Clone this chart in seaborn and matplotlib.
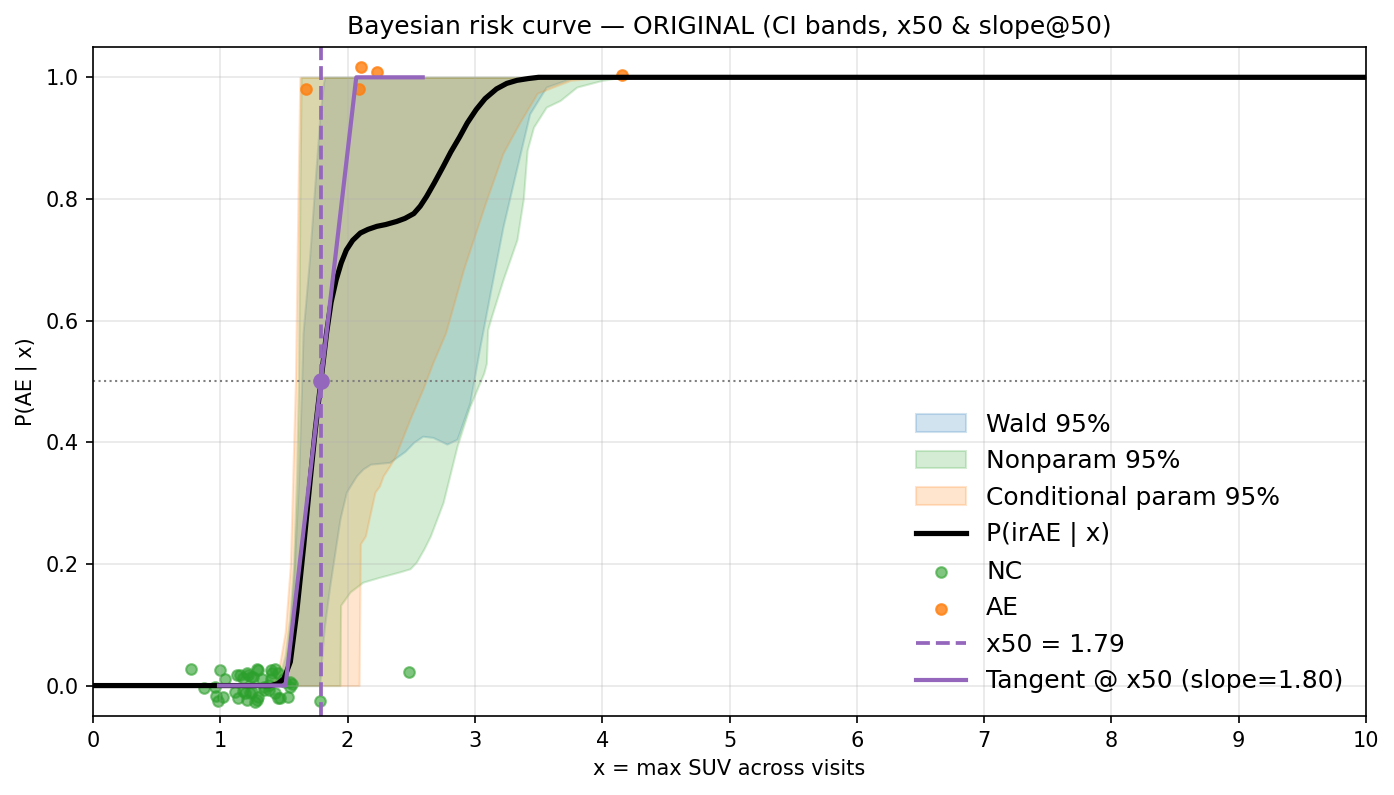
import numpy as np
import matplotlib
matplotlib.use("Agg")
import matplotlib.pyplot as plt
import seaborn as sns

# posterior mean risk curve P(irAE | x)
curve_x = [0.0, 1.40, 1.45, 1.50, 1.55, 1.60, 1.655, 1.707, 1.746, 1.79, 1.835, 1.87, 1.91,
           1.95, 1.99, 2.04, 2.10, 2.16, 2.23, 2.30, 2.385, 2.45, 2.52, 2.57, 2.62, 2.68,
           2.75, 2.81, 2.88, 2.94, 3.01, 3.08, 3.17, 3.25, 3.33, 3.42, 3.50, 3.70, 10.0]
curve_y = [0.0, 0.0, 0.003, 0.011, 0.039, 0.12, 0.23, 0.34, 0.42, 0.50, 0.58, 0.63, 0.667,
           0.695, 0.716, 0.732, 0.744, 0.750, 0.755, 0.758, 0.763, 0.768, 0.776, 0.788, 0.804, 0.826,
           0.853, 0.877, 0.902, 0.925, 0.947, 0.965, 0.981, 0.990, 0.995, 0.998, 1.0, 1.0, 1.0]

# Wald 95% band
wald_x = [0.0, 1.40, 1.45, 1.50, 1.537, 1.577, 1.615, 1.64, 1.65, 1.70, 1.745, 1.77, 1.78,
          1.81, 1.82, 1.86, 1.90, 1.94, 1.99, 2.07, 2.12, 2.18, 2.33, 2.45, 2.52, 2.59, 2.67,
          2.78, 2.86, 2.96, 3.04, 3.12, 3.22, 3.33, 3.43, 3.56, 3.75, 4.0, 10.0]
wald_lo = [0.0] * 13 + [0.08, 0.10, 0.164, 0.219, 0.274, 0.318, 0.345, 0.356, 0.364, 0.367,
                        0.385, 0.40, 0.41, 0.408, 0.397, 0.405, 0.465, 0.558, 0.646, 0.754,
                        0.852, 0.94, 0.984, 0.998, 1.0, 1.0]
wald_hi = [0.0, 0.0, 0.0, 0.023, 0.066, 0.175, 0.34, 0.503, 0.58, 0.70, 0.83, 0.90, 0.93,
           0.99, 1.0] + [1.0] * 24

# Nonparametric 95% band
np_x = [0.0, 1.40, 1.46, 1.51, 1.545, 1.576, 1.60, 1.615, 1.625, 1.635, 1.94, 1.945, 2.02,
        2.12, 2.25, 2.41, 2.49, 2.54, 2.60, 2.65, 2.75, 2.86, 2.96, 3.07, 3.09, 3.10, 3.12,
        3.22, 3.33, 3.38, 3.41, 3.46, 3.56, 3.67, 3.80, 4.0, 4.15, 10.0]
np_lo = [0.0] * 11 + [0.132, 0.154, 0.17, 0.178, 0.187, 0.192, 0.203, 0.225, 0.246, 0.301,
                      0.394, 0.459, 0.514, 0.53, 0.585, 0.60, 0.667, 0.733, 0.80, 0.88,
                      0.918, 0.951, 0.962, 0.984, 0.995, 1.0, 1.0]
np_hi = [0.0, 0.0, 0.01, 0.05, 0.11, 0.197, 0.35, 0.5, 0.8, 1.0] + [1.0] * 28

# Conditional parametric 95% band
cp_x = [0.0, 1.40, 1.46, 1.51, 1.55, 1.59, 1.61, 1.625, 2.09, 2.10, 2.14, 2.18, 2.215, 2.25,
        2.28, 2.33, 2.37, 2.49, 2.59, 2.67, 2.77, 2.91, 3.09, 3.22, 3.35, 3.49, 3.75, 4.0, 10.0]
cp_lo = [0.0] * 9 + [0.233, 0.246, 0.285, 0.318, 0.328, 0.345, 0.361, 0.375, 0.438, 0.487,
                     0.531, 0.58, 0.684, 0.798, 0.875, 0.925, 0.974, 0.995, 1.0, 1.0]
cp_hi = [0.0, 0.0, 0.028, 0.088, 0.197, 0.5, 0.8, 1.0] + [1.0] * 21

# observed patients (jittered around 0 / 1)
nc_x = [0.77, 0.875, 0.96, 0.97, 0.98, 1.00, 1.02, 1.04, 1.115, 1.13, 1.14, 1.155, 1.175,
        1.18, 1.195, 1.21, 1.21, 1.22, 1.235, 1.245, 1.25, 1.26, 1.27, 1.285, 1.29, 1.30,
        1.30, 1.325, 1.34, 1.34, 1.38, 1.38, 1.40, 1.41, 1.40, 1.43, 1.43, 1.455, 1.455,
        1.47, 1.49, 1.51, 1.535, 1.545, 1.55, 1.56, 1.78, 2.48]
nc_y = [0.028, -0.004, -0.002, -0.017, -0.026, 0.025, -0.019, 0.010, -0.010, 0.017, -0.021,
        0.017, -0.009, 0.013, -0.012, 0.020, -0.023, 0.018, -0.013, 0.014, -0.010, 0.014,
        -0.027, -0.024, 0.028, 0.026, -0.019, 0.011, -0.002, -0.008, -0.008, 0.001, 0.025,
        0.020, 0.011, 0.028, -0.013, 0.020, -0.021, -0.021, 0.011, 0.006, -0.019, -0.002,
        0.006, 0.003, -0.026, 0.023]
ae_x = [1.67, 2.09, 2.105, 2.23, 4.155]
ae_y = [0.98, 0.981, 1.017, 1.009, 1.003]

x50 = 1.79
slope50 = 1.80

fig, ax = plt.subplots(figsize=(1394 / 150, 795 / 150), dpi=150)
fig.subplots_adjust(left=0.0667, right=0.980, top=0.941, bottom=0.0994)

ax.axhline(0.5, color="gray", ls=":", lw=1)

ax.fill_between(wald_x, wald_lo, wald_hi, color="tab:blue", alpha=0.2, label="Wald 95%")
ax.fill_between(np_x, np_lo, np_hi, color="tab:green", alpha=0.2, label="Nonparam 95%")
ax.fill_between(cp_x, cp_lo, cp_hi, color="tab:orange", alpha=0.2, label="Conditional param 95%")

sns.lineplot(x=curve_x, y=curve_y, color="black", lw=2.5, label="P(irAE | x)", ax=ax)

sns.scatterplot(x=nc_x, y=nc_y, color="tab:green", s=26, alpha=0.6,
                edgecolor="tab:green", linewidth=1, label="NC", ax=ax)
sns.scatterplot(x=ae_x, y=ae_y, color="tab:orange", s=26, alpha=0.8,
                edgecolor="tab:orange", linewidth=1, label="AE", ax=ax)

ax.axvline(x50, color="tab:purple", ls="--", lw=1.8, label=f"x50 = {x50:.2f}")

tx = np.linspace(x50 - 0.8, x50 + 0.8, 400)
ty = np.clip(0.5 + slope50 * (tx - x50), 0, 1)
ax.plot(tx, ty, color="tab:purple", lw=2, label=f"Tangent @ x50 (slope={slope50:.2f})")
ax.plot([x50], [0.5], "o", color="tab:purple", ms=7)

ax.set_xlim(0, 10)
ax.set_ylim(-0.05, 1.05)
ax.set_xticks(range(0, 11))
ax.set_yticks([0.0, 0.2, 0.4, 0.6, 0.8, 1.0])
ax.grid(True, alpha=0.3)
ax.set_title("Bayesian risk curve — ORIGINAL (CI bands, x50 & slope@50)")
ax.set_xlabel("x = max SUV across visits")
ax.set_ylabel("P(AE | x)")
ax.legend(loc="lower right", frameon=False, fontsize=12)

fig.savefig("out.png", dpi=150)
